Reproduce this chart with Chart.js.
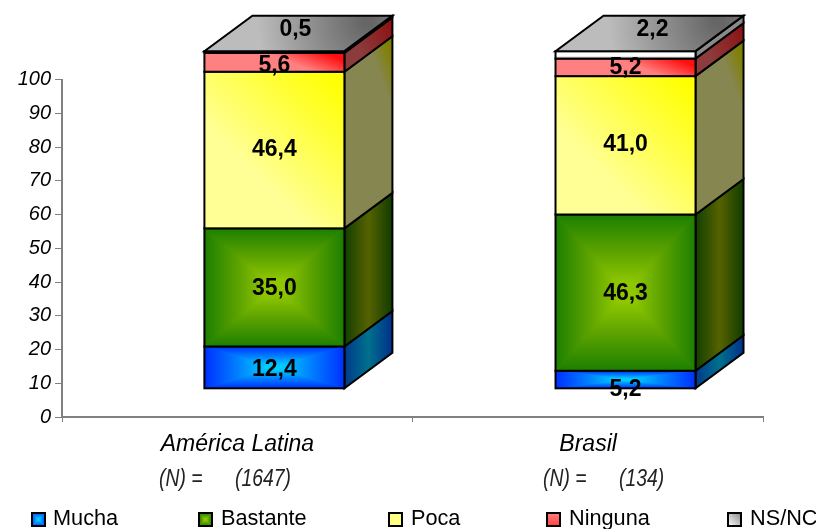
<!DOCTYPE html>
<html><head><meta charset="utf-8">
<style>html,body{margin:0;padding:0;background:#fff}canvas{display:block}</style>
<script src="https://cdn.jsdelivr.net/npm/chart.js@4"></script>
</head><body><canvas id="c" width="816" height="529"></canvas>
<script>
const categories = ['América Latina', 'Brasil'];
const sampleLabels = ['(N) =', '(N) ='];
const sampleSizes = ['(1647)', '(134)'];
const seriesNames = ['Mucha', 'Bastante', 'Poca', 'Ninguna', 'NS/NC'];
const mucha = [12.4, 5.2];
const bastante = [35.0, 46.3];
const poca = [46.4, 41.0];
const ninguna = [5.6, 5.2];
const nsnc = [0.5, 2.2];
const yTicksMax = 100;
const baseColors = ['#0080ff', '#4f9f00', '#ffff80', '#ff6060', '#c8c8c8'];

// placement of the pieces that are not marks
const DX = 48, DY = 35.5;
const labelNudge = [
  [[0, 2], [0, 10]],
  [[0, 1], [0, 1]],
  [[0, 0], [0, -1]],
  [[0, 3], [0, 0]],
  [[21, -22], [27, -25]]
];
const legendBoxX = [32, 199, 389, 547, 728];
const legendTextX = [53, 221, 411, 569, 750];
const sampleX = [[159, 235], [543, 619]];

function poly(ctx, pts) {
  ctx.beginPath();
  pts.forEach((p, i) => i ? ctx.lineTo(p[0], p[1]) : ctx.moveTo(p[0], p[1]));
  ctx.closePath();
}
function lin(ctx, x0, y0, x1, y1, stops) {
  const g = ctx.createLinearGradient(x0, y0, x1, y1);
  stops.forEach(s => g.addColorStop(s[0], s[1]));
  return g;
}
function pyramid(ctx, x0, y0, x1, y1, edge, mid, center) {
  const cx = (x0 + x1) / 2, cy = (y0 + y1) / 2;
  const stops = [[0, edge], [0.5, mid], [0.88, center], [1, center]];
  const tris = [
    [[x0, y0], [x1, y0], cx, y0, cx, cy],
    [[x1, y1], [x0, y1], cx, y1, cx, cy],
    [[x0, y0], [x0, y1], x0, cy, cx, cy],
    [[x1, y0], [x1, y1], x1, cy, cx, cy]
  ];
  tris.forEach(t => {
    const g = lin(ctx, t[2], t[3], t[4], t[5], stops);
    poly(ctx, [t[0], t[1], [cx, cy]]);
    ctx.fillStyle = g; ctx.strokeStyle = g; ctx.lineWidth = 0.7;
    ctx.fill(); ctx.stroke();
  });
}
function paintFront(ctx, s, x0, y0, x1, y1) {
  if (s === 0) return pyramid(ctx, x0, y0, x1, y1, '#0030ff', '#0084ff', '#00ccff');
  if (s === 1) return pyramid(ctx, x0, y0, x1, y1, '#1c7f00', '#5fa400', '#8fc800');
  if (s === 2) ctx.fillStyle = lin(ctx, x1 - 8, y0 + 6, x1 - 95, y0 + 95, [[0, '#ffff00'], [1, '#ffff95']]);
  if (s === 3) ctx.fillStyle = lin(ctx, x1 - 20, y0, x1 - 28, y0 + 20, [[0, '#ff1010'], [1, '#ff8080']]);
  if (s === 4) ctx.fillStyle = lin(ctx, 0, y0, 0, y1, [[0, '#ffffff'], [0.6, '#ffffff'], [1, '#c0c0c0']]);
  ctx.fillRect(x0, y0, x1 - x0, y1 - y0);
}
function paintSide(ctx, s, x1, y0, y1) {
  const x2 = x1 + DX;
  if (s === 0) ctx.fillStyle = lin(ctx, x1, 0, x2, 0, [[0, '#003a8c'], [0.5, '#00708c'], [1, '#00308c']]);
  if (s === 1) ctx.fillStyle = lin(ctx, x1, 0, x2, 0, [[0, '#123f00'], [0.5, '#566200'], [1, '#113c00']]);
  if (s === 2) ctx.fillStyle = lin(ctx, x1 + 5, y0, x2, y0 - DY + 20, [[0, '#868650'], [0.6, '#868650'], [1, '#808000']]);
  if (s === 3) ctx.fillStyle = lin(ctx, x1 + 8, y1 - DY, x2, y0 - DY, [[0, '#8c3c3c'], [1, '#8c0f0f']]);
  if (s === 4) ctx.fillStyle = '#8a8a8a';
  poly(ctx, [[x1, y0], [x2, y0 - DY], [x2, y1 - DY], [x1, y1]]);
  ctx.fill();
  ctx.strokeStyle = '#000'; ctx.lineWidth = 2; ctx.stroke();
}
function paintTop(ctx, x0, x1, y0) {
  const g = ctx.createRadialGradient(x1 + DX - 25, y0 - DY + 6, 5, x1 + DX - 25, y0 - DY + 6, 110);
  g.addColorStop(0, '#666666'); g.addColorStop(1, '#bcbcbc');
  ctx.fillStyle = g;
  poly(ctx, [[x0, y0], [x1, y0], [x1 + DX, y0 - DY], [x0 + DX, y0 - DY]]);
  ctx.fill();
  ctx.strokeStyle = '#000'; ctx.lineWidth = 2; ctx.stroke();
}

const solid3d = {
  id: 'solid3d',
  afterDatasetsDraw(chart) {
    const ctx = chart.ctx;
    ctx.save();
    ctx.lineJoin = 'miter';
    const metas = chart.getSortedVisibleDatasetMetas();
    categories.forEach((_, c) => {
      metas.forEach((m, s) => {
        const el = m.data[c];
        const x0 = el.x - el.width / 2, x1 = el.x + el.width / 2;
        const top = Math.min(el.y, el.base), bot = Math.max(el.y, el.base);
        paintSide(ctx, s, x1, top, bot);
        paintFront(ctx, s, x0, top, x1, bot);
        ctx.strokeStyle = '#000'; ctx.lineWidth = 2;
        ctx.strokeRect(x0, top, x1 - x0, bot - top);
        if (s === metas.length - 1) paintTop(ctx, x0, x1, top);
      });
    });
    // value labels
    ctx.fillStyle = '#000';
    ctx.font = 'bold 23px "Liberation Sans"';
    ctx.textAlign = 'center'; ctx.textBaseline = 'middle';
    metas.forEach((m, s) => m.data.forEach((el, c) => {
      const v = chart.data.datasets[s].data[c].y;
      const n = labelNudge[s][c];
      ctx.fillText(v.toFixed(1).replace('.', ','), el.x + n[0], (el.y + el.base) / 2 + n[1]);
    }));
    // sample sizes under the categories
    ctx.font = 'italic 23px "Liberation Sans"';
    ctx.textAlign = 'left';
    ctx.fillStyle = '#222';
    const narrow = (t, x) => {
      ctx.save(); ctx.translate(x, 480); ctx.scale(0.84, 1); ctx.fillText(t, 0, 0); ctx.restore();
    };
    categories.forEach((_, c) => {
      narrow(sampleLabels[c], sampleX[c][0]);
      narrow(sampleSizes[c], sampleX[c][1]);
    });
    // legend
    ctx.font = '21.7px "Liberation Sans"';
    ctx.fillStyle = '#000';
    seriesNames.forEach((name, s) => {
      const bx = legendBoxX[s], by = 513, bs = 13;
      if (s === 0) pyramid(ctx, bx, by, bx + bs, by + bs, '#0050ff', '#0090ff', '#00ccff');
      else if (s === 1) pyramid(ctx, bx, by, bx + bs, by + bs, '#1c7f00', '#5fa400', '#8fc800');
      else if (s === 2) { ctx.fillStyle = '#ffff80'; ctx.fillRect(bx, by, bs, bs); }
      else if (s === 3) { ctx.fillStyle = lin(ctx, bx, by, bx, by + bs, [[0, '#ff8080'], [1, '#ff4040']]); ctx.fillRect(bx, by, bs, bs); }
      else { ctx.fillStyle = lin(ctx, bx, by + bs, bx + bs, by, [[0, '#ffffff'], [1, '#888888']]); ctx.fillRect(bx, by, bs, bs); }
      ctx.strokeStyle = '#000'; ctx.lineWidth = 2;
      ctx.strokeRect(bx, by, bs, bs);
      ctx.fillStyle = '#000';
      ctx.fillText(name, legendTextX[s], 519);
    });
    ctx.restore();
  }
};

const seriesValues = [mucha, bastante, poca, ninguna, nsnc];
new Chart(document.getElementById('c'), {
  type: 'bar',
  data: {
    labels: categories,
    datasets: seriesNames.map((name, s) => ({
      label: name,
      data: seriesValues[s].map((v, i) => ({ x: i, y: v })),
      backgroundColor: baseColors[s],
      borderColor: '#000',
      borderWidth: 0,
      barThickness: 140,
      xAxisID: 'xDepth',
      yAxisID: 'yDepth',
      clip: false
    }))
  },
  plugins: [solid3d],
  options: {
    responsive: false,
    animation: false,
    layout: { padding: { top: 79.5, right: 52.5, left: 0, bottom: 0 } },
    plugins: { legend: { display: false }, tooltip: { enabled: false } },
    scales: {
      x: {
        type: 'category', labels: categories, offset: true, position: 'bottom',
        grid: { display: true, offset: true, drawOnChartArea: false, drawTicks: true, tickLength: 5, color: '#808080', lineWidth: 1 },
        border: { color: '#808080', width: 2 },
        ticks: { color: '#000', font: { family: '"Liberation Sans"', size: 23, style: 'italic' }, padding: 9, maxRotation: 0 },
        afterFit(s) { s.height = 112; }
      },
      y: {
        type: 'linear', min: 0, max: yTicksMax, position: 'left',
        grid: { display: true, drawOnChartArea: false, drawTicks: true, tickLength: 7, color: '#808080', lineWidth: 1 },
        border: { color: '#808080', width: 2 },
        ticks: { stepSize: 10, color: '#000', font: { family: '"Liberation Sans"', size: 20, style: 'italic' }, padding: 4 },
        afterFit(s) { s.width = 62; }
      },
      xDepth: { type: 'linear', display: false, offset: false, stacked: true, min: -0.605, max: 1.393, position: 'bottom' },
      yDepth: { type: 'linear', display: false, stacked: true, min: -8.5, max: 91.5, position: 'left' }
    }
  }
});
</script></body></html>
